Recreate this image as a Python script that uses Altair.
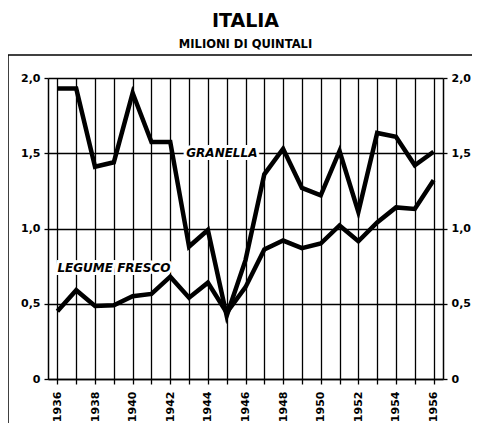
import altair as alt
import pandas as pd

years = [1936, 1937, 1938, 1939, 1940, 1941, 1942, 1943, 1944, 1945, 1946,
         1947, 1948, 1949, 1950, 1951, 1952, 1953, 1954, 1955, 1956]
granella = [1.93, 1.93, 1.41, 1.44, 1.90, 1.575, 1.575, 0.88, 0.99, 0.42, 0.79,
            1.36, 1.53, 1.27, 1.22, 1.515, 1.11, 1.635, 1.61, 1.42, 1.51]
legume = [0.45, 0.59, 0.485, 0.49, 0.55, 0.565, 0.68, 0.54, 0.64, 0.44, 0.61,
          0.86, 0.92, 0.87, 0.90, 1.02, 0.915, 1.04, 1.14, 1.13, 1.32]
series_names = ["GRANELLA", "LEGUME FRESCO"]
label_text = ["GRANELLA", "LEGUME FRESCO"]
label_year = [1942.85, 1936.0]
label_value = [1.5, 0.74]
y_ticks = [0, 0.5, 1.0, 1.5, 2.0]

df = pd.DataFrame({
    "anno": years + years,
    "valore": granella + legume,
    "serie": [series_names[0]] * len(years) + [series_names[1]] * len(years),
})
lab = pd.DataFrame({"anno": label_year, "valore": label_value, "testo": label_text})
one = pd.DataFrame({"k": [0]})

FONT = "DejaVu Sans"
ylabel_expr = "datum.value == 0 ? '0' : replace(format(datum.value, '.1f'), '.', ',')"

axis_style = dict(
    gridColor="black", gridOpacity=1, gridWidth=1.3,
    domainColor="black", domainWidth=1.5, domainOpacity=1,
    tickColor="black", tickWidth=1.3, tickOpacity=1,
    labelColor="black", labelFont=FONT, labelFontWeight="bold", title=None,
)

xscale = alt.Scale(domain=[1935.5, 1956.5], nice=False, zero=False)
yscale = alt.Scale(domain=[0, 2], nice=False)

lines = alt.Chart(df).mark_line(color="black", strokeWidth=4.5, strokeJoin="miter").encode(
    x=alt.X("anno:Q", scale=xscale,
            axis=alt.Axis(values=years, grid=True, labelAngle=270,
                          labelAlign="right", labelBaseline="middle", labelPadding=7,
                          tickSize=5, labelFontSize=11,
                          labelExpr="datum.value % 2 == 0 ? format(datum.value, 'd') : ''",
                          **axis_style)),
    y=alt.Y("valore:Q", scale=yscale,
            axis=alt.Axis(values=y_ticks, grid=True, orient="left",
                          labelExpr=ylabel_expr, tickSize=4, labelPadding=4, labelFontSize=11,
                          **axis_style)),
    detail="serie:N",
)

right_axis = alt.Chart(df).mark_line(opacity=0).encode(
    x=alt.X("anno:Q", scale=xscale, axis=None),
    y=alt.Y("valore:Q", scale=yscale,
            axis=alt.Axis(values=y_ticks, grid=False, orient="right",
                          labelExpr=ylabel_expr, tickSize=4, labelPadding=4, labelFontSize=11,
                          **axis_style)),
    detail="serie:N",
)

halo = alt.Chart(lab).mark_text(align="left", baseline="middle", font=FONT, fontSize=12,
                                fontWeight="bold", fontStyle="italic", stroke="white",
                                strokeWidth=6, color="white").encode(
    x=alt.X("anno:Q", scale=xscale, axis=None),
    y=alt.Y("valore:Q", scale=yscale, axis=None), text="testo:N")

texts = alt.Chart(lab).mark_text(align="left", baseline="middle", font=FONT, fontSize=12,
                                 fontWeight="bold", fontStyle="italic", color="black").encode(
    x=alt.X("anno:Q", scale=xscale, axis=None),
    y=alt.Y("valore:Q", scale=yscale, axis=None), text="testo:N")

frame_top = alt.Chart(one).mark_rule(color="black", strokeWidth=1.5).encode(
    x=alt.value(-40), x2=alt.value(440), y=alt.value(-23))
frame_left = alt.Chart(one).mark_rule(color="black", strokeWidth=1.5).encode(
    x=alt.value(-40), y=alt.value(-23), y2=alt.value(350))

chart = alt.layer(frame_top, frame_left, halo, lines, texts, right_axis).resolve_axis(
    x="independent", y="independent"
).properties(
    width=395,
    height=301,
    autosize="none",
    padding={"left": 40, "top": 70, "right": 29, "bottom": 44},
    title=alt.TitleParams(
        "ITALIA", subtitle="MILIONI DI QUINTALI", anchor="middle",
        font=FONT, fontSize=19, fontWeight="bold", color="black",
        subtitleFont=FONT, subtitleFontSize=11.5, subtitleFontWeight="bold",
        subtitleColor="black", subtitlePadding=8, offset=4,
    ),
).configure_view(stroke="black", strokeWidth=1.5).configure(background="white")

chart.save("out.html", embed_options={"renderer": "svg", "actions": False})
